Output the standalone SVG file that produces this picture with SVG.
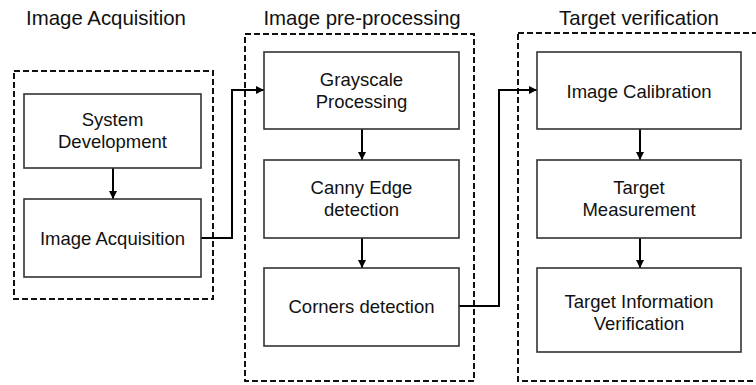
<svg xmlns="http://www.w3.org/2000/svg" width="756" height="385" viewBox="0 0 756 385">
  <style>
    .stage { fill: none; stroke: #111; stroke-width: 2; stroke-dasharray: 6 3; }
    .box { fill: #fff; stroke: #333; stroke-width: 1.6; }
    .title { font-family: "Liberation Sans", Arial, sans-serif; font-size: 20.4px; fill: #111; text-anchor: middle; }
    .label { font-family: "Liberation Sans", Arial, sans-serif; font-size: 18.5px; fill: #111; text-anchor: middle; }
    .link { fill: none; stroke: #000; stroke-width: 2; marker-end: url(#head); }
  </style>
  <defs>
    <marker id="head" viewBox="0 0 10 10" refX="10" refY="5" markerWidth="4" markerHeight="4" markerUnits="strokeWidth" orient="auto">
      <path d="M0,0 L10,5 L0,10 z" fill="#000"/>
    </marker>
  </defs>
  <rect width="756" height="385" fill="#fff"/>

  <!-- stage frames and headings -->
  <g id="stage-acquisition">
    <text class="title" x="106" y="24.5">Image Acquisition</text>
    <rect class="stage" x="14" y="71" width="199" height="228"/>
  </g>
  <g id="stage-preprocessing">
    <text class="title" x="362" y="24.5">Image pre-processing</text>
    <rect class="stage" x="245" y="34" width="229" height="347"/>
  </g>
  <g id="stage-verification">
    <text class="title" x="639" y="24.5">Target verification</text>
    <rect class="stage" x="518" y="33" width="245" height="348"/>
  </g>

  <!-- connectors -->
  <g id="connectors">
    <path class="link" d="M113,168 V199"/>
    <path class="link" d="M201,238 H232 V90 H264"/>
    <path class="link" d="M362,129 V160"/>
    <path class="link" d="M362,238 V268"/>
    <path class="link" d="M459,306 H499 V90 H537"/>
    <path class="link" d="M640,129 V160"/>
    <path class="link" d="M640,238 V268"/>
  </g>

  <!-- nodes -->
  <g id="system-development">
    <rect class="box" x="24" y="94" width="177" height="74"/>
    <text class="label" x="112.5" y="126">System</text>
    <text class="label" x="112.5" y="148">Development</text>
  </g>
  <g id="image-acquisition">
    <rect class="box" x="24" y="199" width="177" height="78"/>
    <text class="label" x="112.5" y="245">Image Acquisition</text>
  </g>
  <g id="grayscale-processing">
    <rect class="box" x="264" y="52" width="195" height="77"/>
    <text class="label" x="361.5" y="85.5">Grayscale</text>
    <text class="label" x="361.5" y="107.5">Processing</text>
  </g>
  <g id="canny-edge-detection">
    <rect class="box" x="264" y="160" width="195" height="78"/>
    <text class="label" x="361.5" y="194">Canny Edge</text>
    <text class="label" x="361.5" y="216">detection</text>
  </g>
  <g id="corners-detection">
    <rect class="box" x="264" y="268" width="195" height="78"/>
    <text class="label" x="361.5" y="313">Corners detection</text>
  </g>
  <g id="image-calibration">
    <rect class="box" x="537" y="52" width="204" height="77"/>
    <text class="label" x="639" y="97.5">Image Calibration</text>
  </g>
  <g id="target-measurement">
    <rect class="box" x="537" y="160" width="204" height="78"/>
    <text class="label" x="639" y="194">Target</text>
    <text class="label" x="639" y="216">Measurement</text>
  </g>
  <g id="target-information-verification">
    <rect class="box" x="537" y="268" width="204" height="84"/>
    <text class="label" x="639" y="308">Target Information</text>
    <text class="label" x="639" y="330">Verification</text>
  </g>
</svg>
